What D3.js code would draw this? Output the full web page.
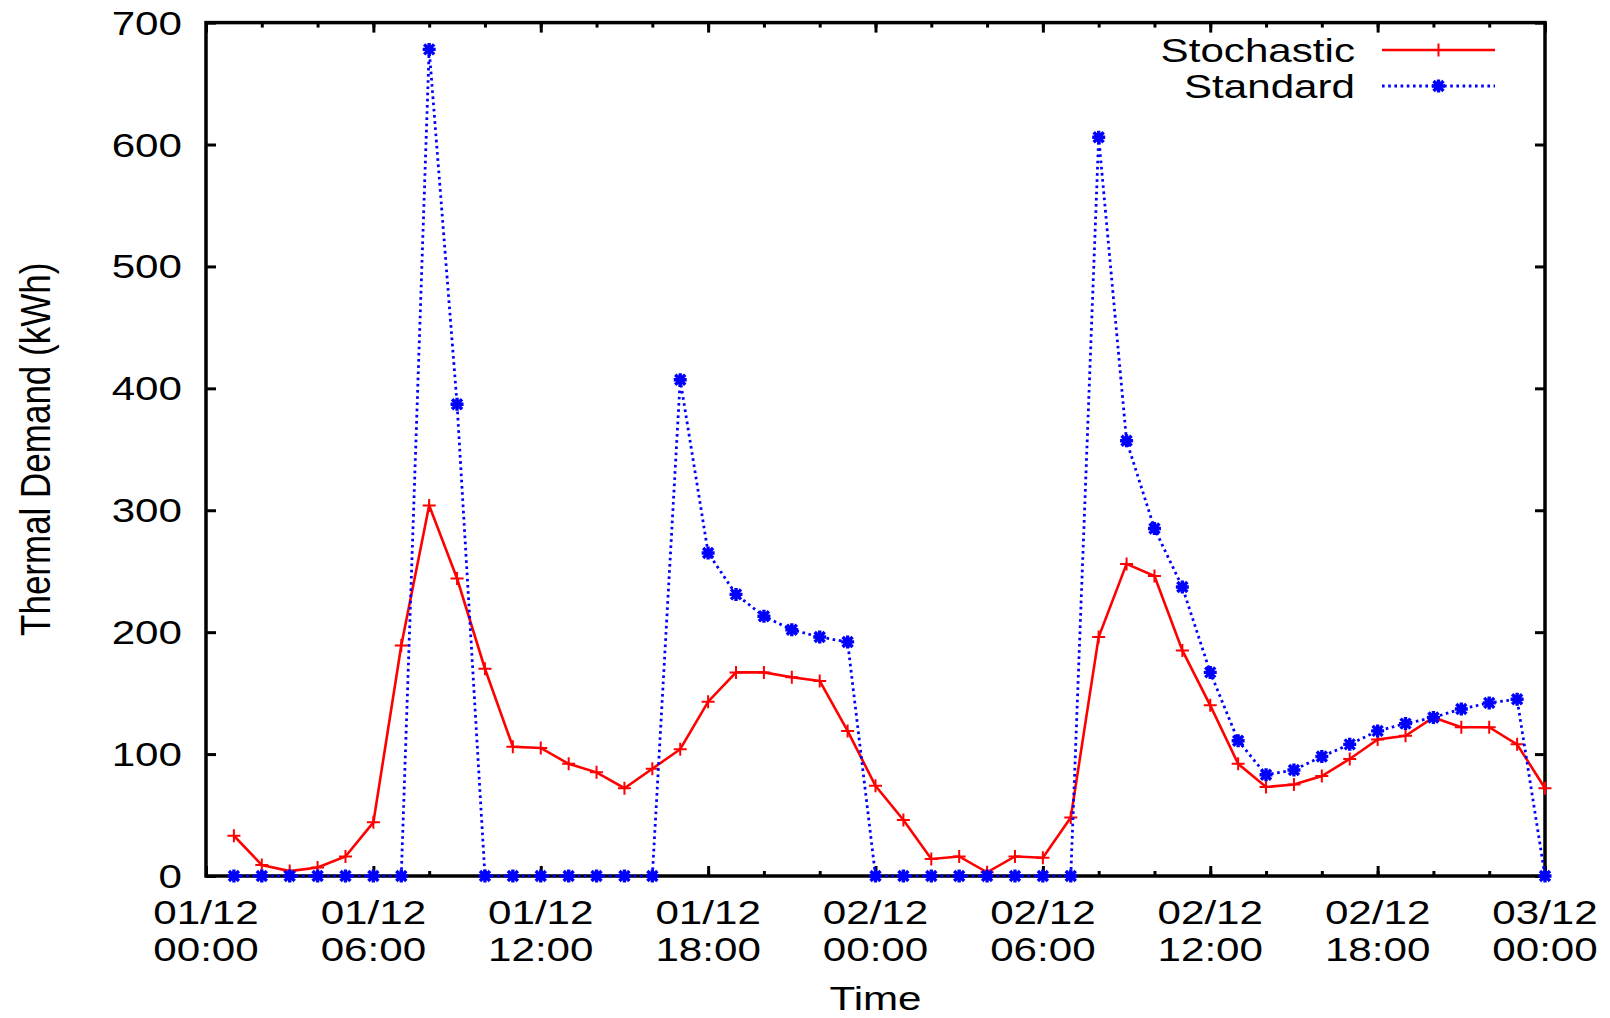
<!DOCTYPE html>
<html><head><meta charset="utf-8">
<script src="https://cdn.jsdelivr.net/npm/d3@7"></script>
<style>
body{margin:0;background:#fff;}
svg{display:block;}
text{font-family:"Liberation Sans",Arial,Helvetica,sans-serif;fill:#000;}
</style>
</head><body>
<svg id="chart" width="1610" height="1018"></svg>
<script>
// ---- data ----
const hours = [1,2,3,4,5,6,7,8,9,10,11,12,13,14,15,16,17,18,19,20,21,22,23,24,
               25,26,27,28,29,30,31,32,33,34,35,36,37,38,39,40,41,42,43,44,45,46,47,48];
const stochastic = [33,9,4,7,16,44,189,304,244,170,
                    106,105,92,85,72,88,104,143,167,167,
                    163,160,119,74,46,14,16,3,16,15,
                    48,196,256,246,185,140,92,73,75,82,
                    96,112,115,130,122,122,108,72];
const standard = [0,0,0,0,0,0,0,678,387,0,
                  0,0,0,0,0,0,407,265,231,213,
                  202,196,192,0,0,0,0,0,0,0,
                  0,606,357,285,237,167,111,83,87,98,
                  108,119,125,130,137,142,145,0];
const seriesNames = ["Stochastic","Standard"];
const xMajorHours = [0,6,12,18,24,30,36,42,48];
const xMinorHours = [0,2,4,6,8,10,12,14,16,18,20,22,24,26,28,30,32,34,36,38,40,42,44,46,48];
const xTickDates = ["01/12","01/12","01/12","01/12","02/12","02/12","02/12","02/12","03/12"];
const xTickTimes = ["00:00","06:00","12:00","18:00","00:00","06:00","12:00","18:00","00:00"];
const yTicks = [0,100,200,300,400,500,600,700];
const xTitle = "Time";
const yTitle = "Thermal Demand (kWh)";

// ---- layout ----
const W = 1610, H = 1018;
const L = 206, R = 1545, T = 22.6, B = 876;
const FS = 34, SX = 1.24;
const RED = "#ff0000", BLUE = "#0000ff";

const x = d3.scaleLinear().domain([0, 48]).range([L, R]);
const y = d3.scaleLinear().domain([0, 700]).range([B, T]);

const svg = d3.select("#chart");
svg.append("rect").attr("width", W).attr("height", H).attr("fill", "#fff");

function styleAxis(g) {
  g.select(".domain").remove();
  g.selectAll(".tick line").attr("stroke", "#000").attr("stroke-width", 3);
  g.selectAll(".tick text").remove();
}

// ticks (inward, mirrored)
svg.append("g").attr("transform", `translate(0,${B})`)
  .call(d3.axisBottom(x).tickValues(xMinorHours).tickSizeInner(-5).tickSizeOuter(0)).call(styleAxis);
svg.append("g").attr("transform", `translate(0,${B})`)
  .call(d3.axisBottom(x).tickValues(xMajorHours).tickSizeInner(-10).tickSizeOuter(0)).call(styleAxis);
svg.append("g").attr("transform", `translate(0,${T})`)
  .call(d3.axisTop(x).tickValues(xMinorHours).tickSizeInner(-5).tickSizeOuter(0)).call(styleAxis);
svg.append("g").attr("transform", `translate(0,${T})`)
  .call(d3.axisTop(x).tickValues(xMajorHours).tickSizeInner(-10).tickSizeOuter(0)).call(styleAxis);
svg.append("g").attr("transform", `translate(${L},0)`)
  .call(d3.axisLeft(y).tickValues(yTicks).tickSizeInner(-10).tickSizeOuter(0)).call(styleAxis);
svg.append("g").attr("transform", `translate(${R},0)`)
  .call(d3.axisRight(y).tickValues(yTicks).tickSizeInner(-10).tickSizeOuter(0)).call(styleAxis);

// border
svg.append("rect").attr("x", L).attr("y", T).attr("width", R - L).attr("height", B - T)
  .attr("fill", "none").attr("stroke", "#000").attr("stroke-width", 3.5);

// stretched text helper
function stext(xp, yp, str, anchor) {
  return svg.append("text")
    .attr("transform", `translate(${xp},${yp}) scale(${SX},1)`)
    .attr("text-anchor", anchor).attr("font-size", FS).text(str);
}

// y tick labels
yTicks.forEach(v => {
  stext(182, y(v) + 12, String(v), "end");
});
// x tick labels
xMajorHours.forEach((h, i) => {
  stext(x(h), 924, xTickDates[i], "middle");
  stext(x(h), 960.5, xTickTimes[i], "middle");
});
// titles
stext((L + R) / 2, 1010, xTitle, "middle");
svg.append("text")
  .attr("transform", `translate(50,${(T + B) / 2}) scale(${SX},1) rotate(-90)`)
  .attr("text-anchor", "middle").attr("font-size", 35).text(yTitle);

// ---- series ----
const plusPath = "M-6.5,0H6.5M0,-6.5V6.5";
const starPath = "M-6.5,0H6.5M0,-6.5V6.5M-5,-5L5,5M-5,5L5,-5";

const stochData = hours.map((h, i) => [h, stochastic[i]]);
const stdData = hours.map((h, i) => [h, standard[i]]);
const line = d3.line().x(d => x(d[0])).y(d => y(d[1]));

svg.append("path").datum(stochData).attr("d", line)
  .attr("fill", "none").attr("stroke", RED).attr("stroke-width", 2.6).attr("stroke-linejoin", "miter");
svg.append("g").selectAll("path").data(stochData).join("path")
  .attr("transform", d => `translate(${x(d[0])},${y(d[1])})`)
  .attr("d", plusPath).attr("stroke", RED).attr("stroke-width", 2).attr("fill", "none");

svg.append("path").datum(stdData).attr("d", line)
  .attr("fill", "none").attr("stroke", BLUE).attr("stroke-width", 2.8)
  .attr("stroke-dasharray", "2.6,3.6");
svg.append("g").selectAll("path").data(stdData).join("path")
  .attr("transform", d => `translate(${x(d[0])},${y(d[1])})`)
  .attr("d", starPath).attr("stroke", BLUE).attr("stroke-width", 3.4).attr("fill", "none");

// ---- legend ----
const legendRows = [
  {name: seriesNames[0], color: RED, dash: null, marker: plusPath, mw: 2, ly: 50},
  {name: seriesNames[1], color: BLUE, dash: "2.6,3.6", marker: starPath, mw: 3.4, ly: 86}
];
legendRows.forEach(r => {
  stext(1355, r.ly + 12, r.name, "end");
  svg.append("line").attr("x1", 1382).attr("x2", 1495).attr("y1", r.ly).attr("y2", r.ly)
    .attr("stroke", r.color).attr("stroke-width", r.dash ? 2.8 : 2.6)
    .attr("stroke-dasharray", r.dash);
  svg.append("path").attr("transform", `translate(1438.5,${r.ly})`)
    .attr("d", r.marker).attr("stroke", r.color).attr("stroke-width", r.mw).attr("fill", "none");
});
</script>
</body></html>
